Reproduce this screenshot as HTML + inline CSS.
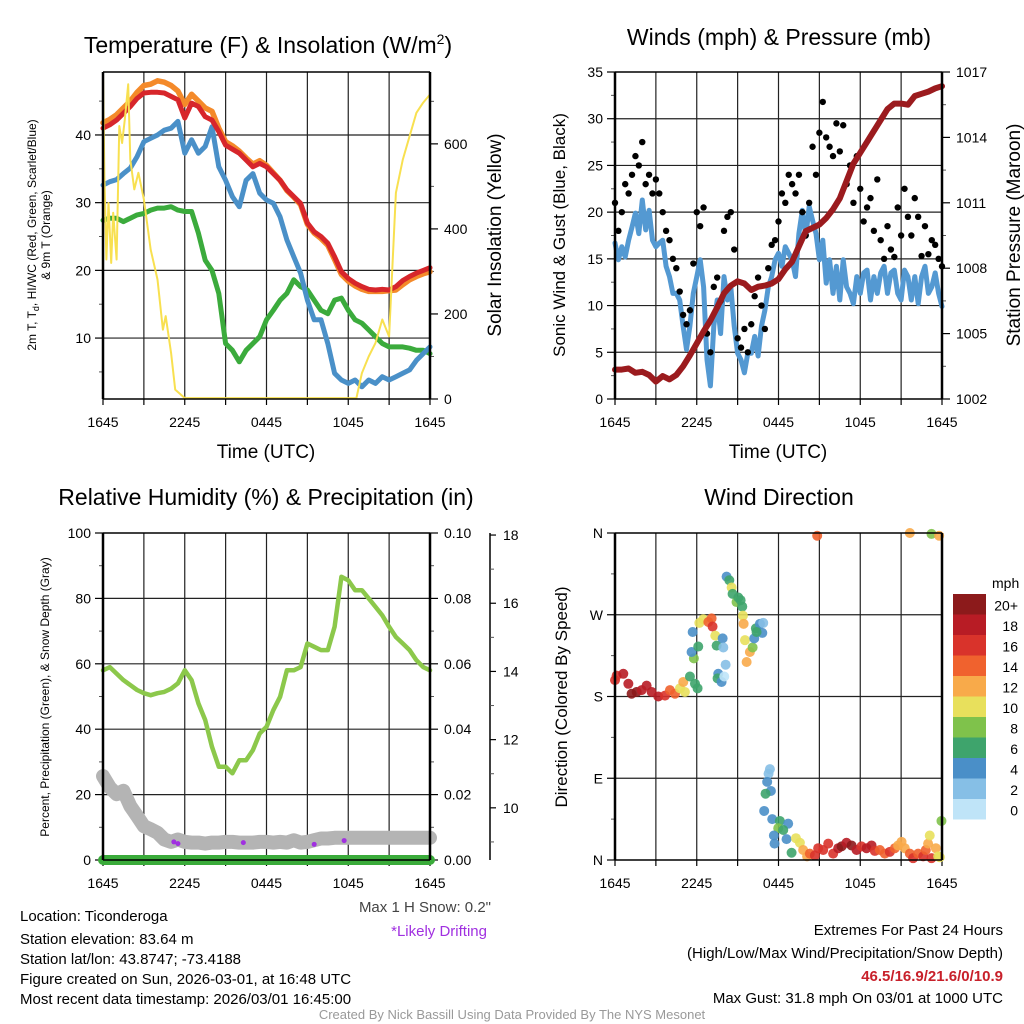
<!DOCTYPE html>
<html><head><meta charset="utf-8"><style>
html,body{margin:0;padding:0;background:#fff;}
svg{display:block;font-family:"Liberation Sans",Arial,sans-serif;}
</style></head><body>
<svg id="c" width="1024" height="1024" viewBox="0 0 1024 1024">
<rect x="0" y="0" width="1024" height="1024" fill="#fff"/>
<text x="268" y="53" font-size="23" text-anchor="middle">Temperature (F) &amp; Insolation (W/m<tspan font-size="14" dy="-9">2</tspan><tspan dy="9">)</tspan></text>
<text x="779" y="45" font-size="23" text-anchor="middle">Winds (mph) &amp; Pressure (mb)</text>
<text x="266" y="505" font-size="23" text-anchor="middle">Relative Humidity (%) &amp; Precipitation (in)</text>
<text x="779" y="505" font-size="23" text-anchor="middle">Wind Direction</text>
<text x="266" y="458" font-size="19" text-anchor="middle">Time (UTC)</text>
<text x="778" y="458" font-size="19" text-anchor="middle">Time (UTC)</text>
<text transform="translate(36,235) rotate(-90)" font-size="12" text-anchor="middle"><tspan x="0" dy="0">2m T, T<tspan font-size="9" dy="3">d</tspan><tspan dy="-3">, HI/WC (Red, Green, Scarlet/Blue)</tspan></tspan><tspan x="0" dy="14">&amp; 9m T (Orange)</tspan></text>
<text transform="translate(501,235) rotate(-90)" font-size="19" text-anchor="middle">Solar Insolation (Yellow)</text>
<text transform="translate(565,235) rotate(-90)" font-size="17" text-anchor="middle">Sonic Wind &amp; Gust (Blue, Black)</text>
<text transform="translate(1020,235) rotate(-90)" font-size="19" text-anchor="middle">Station Pressure (Maroon)</text>
<text transform="translate(49,697) rotate(-90)" font-size="12" text-anchor="middle">Percent, Precipitation (Green), &amp; Snow Depth (Gray)</text>
<text transform="translate(567,697) rotate(-90)" font-size="17" text-anchor="middle">Direction (Colored By Speed)</text>
<text x="992" y="588" font-size="14">mph</text>
<g font-size="15">
<text x="20" y="921">Location: Ticonderoga</text>
<text x="20" y="944">Station elevation: 83.64 m</text>
<text x="20" y="964">Station lat/lon: 43.8747; -73.4188</text>
<text x="20" y="984">Figure created on Sun, 2026-03-01, at 16:48 UTC</text>
<text x="20" y="1004">Most recent data timestamp: 2026/03/01 16:45:00</text>
<text x="491" y="912" text-anchor="end" fill="#444">Max 1 H Snow: 0.2"</text>
<text x="487" y="936" text-anchor="end" fill="#a030e0">*Likely Drifting</text>
<text x="1003" y="935" text-anchor="end">Extremes For Past 24 Hours</text>
<text x="1003" y="958" text-anchor="end">(High/Low/Max Wind/Precipitation/Snow Depth)</text>
<text x="1003" y="981" text-anchor="end" fill="#c8202a" font-weight="bold">46.5/16.9/21.6/0/10.9</text>
<text x="1003" y="1003" text-anchor="end">Max Gust: 31.8 mph On 03/01 at 1000 UTC</text>
</g>
<text x="512" y="1019" font-size="13" text-anchor="middle" fill="#999">Created By Nick Bassill Using Data Provided By The NYS Mesonet</text>
</svg>
<script>
// ---- data ----
const xTickLabels = ["1645","2245","0445","1045","1645"];
const halfHours = [0,0.5,1,1.5,2,2.5,3,3.5,4,4.5,5,5.5,6,6.5,7,7.5,8,8.5,9,9.5,10,10.5,11,11.5,12,12.5,13,13.5,14,14.5,15,15.5,16,16.5,17,17.5,18,18.5,19,19.5,20,20.5,21,21.5,22,22.5,23,23.5,24];
const tempRed = [41,41.5,42.2,43.2,44.2,45.4,46.2,46.3,46.3,46.2,45.7,45.2,42.5,44.7,44.2,42.7,42.2,40.5,38.5,37.9,37.3,36.3,35.3,35.8,35.3,34.3,33.3,31.9,30.9,29.9,27,25.7,25,24,22,19.8,18.8,18.1,17.6,17.2,17.1,17.2,17.1,17.6,18.5,19.1,19.6,20,20.4];
const temp9mOrange = [41.8,42.3,43,44,45,46.3,47.3,47.5,48,47.8,47.3,46.5,44.5,46,45,44,43.5,41,39,38.4,37.6,36.6,35.7,36.2,35.5,34.4,33.3,31.8,30.8,29.7,26.8,25.5,24.7,23.7,21.6,19.4,18.4,17.7,17.2,16.9,16.9,16.9,17,17.1,17.9,18.6,19.1,19.5,19.8];
const dewBlue = [32.6,33.1,33.4,34.3,35.1,36.8,39,39.5,40,40.7,41,42,37.3,39.3,37.3,38.3,41.2,35.3,33.3,30.9,29.4,33.3,34.3,31.4,30.4,29.9,27.9,24.5,22,19.6,15.6,12.7,12.7,9.2,4.8,3.8,3.3,3.8,2.8,3.8,3.3,4.3,3.8,4.3,4.8,5.3,6.7,7.7,8.7];
const windChillGreen = [27.4,27.7,27.7,27.2,27.7,28.2,28.4,28.9,29.2,29.2,29.4,28.9,28.7,28.7,25.5,21.5,20,16.6,9.2,8.2,6.5,8.2,9.2,10.2,12.7,14.1,15.6,16.6,18.6,17.6,17.1,15.6,14.1,13.6,15.6,15.9,14.1,12.7,12.2,11.2,10.2,9.2,8.7,8.7,8.7,8.5,8.2,8.2,7.7];
const solarHours = [0,0.1,0.25,0.4,0.6,0.75,1.0,1.2,1.4,1.6,1.85,2.0,2.3,2.6,3,3.5,4,4.4,4.6,5,5.3,6,18.6,19,19.5,20,20.5,21,21.5,22,22.5,23,23.5,24];
const solarW = [767,524,328,461,320,438,328,642,602,657,740,563,493,532,469,351,281,163,195,108,22,2,2,61,100,132,187,147,485,563,618,673,697,716];
const quarterHours = [0,0.25,0.5,0.75,1,1.25,1.5,1.75,2,2.25,2.5,2.75,3,3.25,3.5,3.75,4,4.25,4.5,4.75,5,5.25,5.5,5.75,6,6.25,6.5,6.75,7,7.25,7.5,7.75,8,8.25,8.5,8.75,9,9.25,9.5,9.75,10,10.25,10.5,10.75,11,11.25,11.5,11.75,12,12.25,12.5,12.75,13,13.25,13.5,13.75,14,14.25,14.5,14.75,15,15.25,15.5,15.75,16,16.25,16.5,16.75,17,17.25,17.5,17.75,18,18.25,18.5,18.75,19,19.25,19.5,19.75,20,20.25,20.5,20.75,21,21.25,21.5,21.75,22,22.25,22.5,22.75,23,23.25,23.5,23.75,24];
const windSpeed = [16.7,14.9,16.3,15.2,17,18.4,19.9,17.7,21.3,18.1,20.2,17,16.3,16.7,17,14.2,13.1,11.3,11.3,10.6,7.8,5.3,7.8,11.3,13.1,14.9,12,4.2,1.4,7.8,10.6,7,13.1,10.6,12,7.8,4.9,4.2,2.8,4.9,4.9,6.7,4.6,7.8,9.5,12,13.1,14.9,15.6,14.2,16.3,15.6,14.9,13.1,17.7,20.2,17.4,20.6,19.1,17.7,14.9,17,12.4,14.9,11.3,14.2,10.6,14.9,12,11.3,10.2,13.1,11.3,13.5,13.8,10.6,13.1,11.3,13.5,14.2,11.3,13.5,13.8,11.3,10.6,13.8,13.1,10.6,13.1,10.2,13.1,14.2,11.3,12,13.5,11.3,9.9];
const windGust = [21,18,20,23,22,24,26,25,27.5,23,24,22,23.5,22,20,18,17,15,14,11.5,9,8,9.5,14.5,20,18.5,20.5,7,5,12,13,10.5,18,19.5,20,16,6.5,5.5,7.5,5,8,11,13,10,7.5,14,16.5,17,19,22,21,24,23,22,24,20,17.5,21,27,24,28.5,31.8,28,27,26,29.5,26.5,29.3,23,25,21,26,22.5,19,20.5,21.5,18,23.5,17,15,18.5,16,15.2,20.5,17.5,22.5,19.5,17.5,21.5,19.5,15.3,18.5,15.5,17,16.5,15,14.2];
const pressureMb = [1003.35,1003.35,1003.4,1003.2,1003.25,1003.1,1002.8,1003.05,1002.9,1003.1,1003.5,1004.0,1004.55,1005.1,1005.6,1006.2,1006.85,1007.2,1007.4,1007.3,1007.0,1007.15,1007.2,1007.3,1007.5,1007.95,1008.3,1009.0,1009.7,1009.85,1010.0,1010.3,1010.7,1011.2,1012.0,1012.8,1013.3,1013.8,1014.3,1014.8,1015.3,1015.55,1015.55,1015.5,1015.9,1016.0,1016.1,1016.25,1016.35];
const relHumidity = [58,59,57,55,53.5,52,51,50.4,51,51.4,52.4,54,58,55,47.9,42.8,34.6,28.5,28.5,26.5,30.5,30.5,33.6,38.7,40.7,45.8,49.9,58,58,59,66.2,65.2,64.2,64.2,71.3,86.6,85.5,82.5,82.5,80,77.4,74.8,71.3,68.2,66.2,64.2,61.1,59,58];
const snowDepth = [10.93,10.6,10.4,10.5,10.05,9.76,9.46,9.37,9.27,9.07,9.0,9.07,9.0,8.98,8.98,8.95,8.98,8.98,9.0,9.0,8.98,8.98,8.98,9.0,9.0,8.98,9.0,8.98,9.05,8.98,9.0,9.05,9.1,9.1,9.12,9.12,9.12,9.12,9.12,9.12,9.12,9.12,9.12,9.12,9.12,9.12,9.12,9.12,9.12];
const precipIn = [0,0,0,0,0,0,0,0,0,0,0,0,0,0,0,0,0,0,0,0,0,0,0,0,0,0,0,0,0,0,0,0,0,0,0,0,0,0,0,0,0,0,0,0,0,0,0,0,0];
const driftHours = [5.2,5.5,10.3,15.5,17.7];
const driftSnow = [9.0,8.95,8.98,8.93,9.04];
const dirHours = [0.0,0.12,0.61,0.98,1.22,1.59,1.96,2.32,2.69,3.18,3.67,4.03,4.4,4.77,5.13,5.01,5.5,5.87,6.06,5.79,5.62,6.11,5.7,6.19,6.48,6.85,7.09,7.16,7.36,7.46,7.9,7.95,8.12,7.58,7.53,7.82,8.02,8.19,8.39,8.56,8.63,8.92,9.05,9.22,9.34,9.39,9.44,9.54,9.9,10.1,9.66,10.22,10.34,10.64,10.88,10.81,10.39,11.37,11.27,11.17,11.44,11.05,10.95,11.54,12.1,11.98,12.71,12.35,11.66,12.59,11.71,12.96,13.28,13.57,13.81,14.1,14.3,14.67,14.91,15.28,15.65,16.01,16.38,16.63,16.99,17.36,17.73,18.09,18.46,18.83,19.07,19.44,19.8,20.17,20.54,20.78,21.03,21.27,21.64,21.88,22.25,22.62,22.81,22.98,23.1,23.23,23.55,23.72,23.84,23.96,14.84,21.64,23.23,23.79];
const dirDeg = [198,203,205,194,183,185,187,192,185,180,181,187,183,189,185,196,202,194,189,222,229,235,251,261,265,262,266,257,247,236,244,234,215,205,200,196,202,312,308,300,293,284,289,286,279,269,260,242,229,234,218,244,255,260,261,250,251,100,95,86,76,73,54,45,43,35,40,33,27,23,18,8,24,19,11,4,7,5,13,11,18,7,13,15,19,16,11,15,13,16,10,11,7,9,13,16,20,13,7,2,7,4,11,18,27,2,13,4,3,43,357,360,359,357];
const dirSpeed = [16,16,18,18,20,20,18,18,18,18,16,14,14,10,10,12,6,6,6,8,4,6,4,10,10,14,14,16,10,6,4,2,2,4,6,4,0,4,6,10,6,8,6,6,6,10,12,10,12,8,12,4,6,4,2,4,6,2,2,4,4,6,4,4,6,8,4,6,4,4,4,6,10,10,12,12,14,16,16,16,16,16,18,20,18,20,18,16,18,18,16,14,14,16,14,12,12,12,14,16,14,16,14,12,10,16,12,10,10,8,14,12,8,12];
const speedBins = [0,2,4,6,8,10,12,14,16,18,20];
const speedLabels = ["0","2","4","6","8","10","12","14","16","18","20+"];
const speedColors = ["#bfe4f8","#86bfe6","#4a8fc8","#3ea46c","#7fc24b","#e8e05c","#f8aa4a","#f0622e","#d9332b","#b81c25","#8c1a1b"];
const tempTicks = [10,20,30,40];
const solarTicks = [0,200,400,600];
const windTicks = [0,5,10,15,20,25,30,35];
const pressTicks = [1002,1005,1008,1011,1014,1017];
const rhTicks = [0,20,40,60,80,100];
const precipTicks = [0,0.02,0.04,0.06,0.08,0.10];
const snowTicks = [10,12,14,16,18];
const dirTicks = [0,90,180,270,360];
const dirLabels = ["N","E","S","W","N"];

// ---- helpers ----
const NS = "http://www.w3.org/2000/svg";
const svg = document.getElementById("c");
function mk(tag, attrs, parent){ const e=document.createElementNS(NS,tag); for(const k in attrs) e.setAttribute(k,attrs[k]); (parent||svg).appendChild(e); return e; }
function lin(d0,d1,r0,r1){ return v => r0 + (v-d0)/(d1-d0)*(r1-r0); }
function pathD(xs, ys, fx, fy){ return xs.map((x,i)=>(i?"L":"M")+fx(x).toFixed(1)+","+fy(ys[i]).toFixed(1)).join(""); }

const P1={x0:103,x1:430,y0:72,y1:399}, P2={x0:615,x1:942,y0:72,y1:399}, P3={x0:103,x1:430,y0:533,y1:860}, P4={x0:615,x1:942,y0:533,y1:860};

function frame(P, key){
  const g=mk("g",{});
  
  
  const fx=lin(0,24,P.x0,P.x1);
  for(let h=0;h<=24;h+=3){
    const gl=mk("line",{x1:fx(h),x2:fx(h),y1:P.y0,y2:P.y1,stroke:"#222","stroke-width":1.2},g);
    
    
    const tk=mk("line",{x1:fx(h),x2:fx(h),y1:P.y1,y2:P.y1+6,stroke:"#000","stroke-width":1.2},g);
    
    
  }
  xTickLabels.forEach((l,i)=>{
    const t=mk("text",{x:fx(i*6),y:P.y1+28,"font-size":14,"text-anchor":"middle"},g);
    t.textContent=l;
    
    
  });
  return g;
}
function hGrid(P,key,ticks,fy,labels,side,minor){
  ticks.forEach((v,i)=>{
    const y=fy(v);
    if(side==="left" && y>P.y0+1 && y<P.y1-1){
      const l=mk("line",{x1:P.x0,x2:P.x1,y1:y,y2:y,stroke:"#222","stroke-width":1.2});
      
      
    }
    const tx = side==="left"? P.x0-8 : P.x1+10;
    const tk=mk("line",{x1:side==="left"?P.x0-8:P.x1,x2:side==="left"?P.x0:P.x1+8,y1:y,y2:y,stroke:"#000","stroke-width":1.2});
    
    
    const t=mk("text",{x:tx-(side==="left"?4:-4),y:y+5,"font-size":14,"text-anchor":side==="left"?"end":"start"});
    t.textContent=labels[i];
    
    
  });
  (minor||[]).forEach(v=>{
    const y=fy(v);
    const tk=mk("line",{x1:side==="left"?P.x0-4:P.x1,x2:side==="left"?P.x0:P.x1+4,y1:y,y2:y,stroke:"#555","stroke-width":1});
    
    
  });
}
function border(P,key){
  const a=mk("line",{x1:P.x0,x2:P.x0,y1:P.y0,y2:P.y1,stroke:"#000","stroke-width":2.5});
  
  
  const b=mk("line",{x1:P.x1,x2:P.x1,y1:P.y0,y2:P.y1,stroke:"#000","stroke-width":2.5});
  
  
  const c=mk("line",{x1:P.x0,x2:P.x1,y1:P.y0,y2:P.y0,stroke:"#000","stroke-width":1.5});
  
  
  const d=mk("line",{x1:P.x0,x2:P.x1,y1:P.y1,y2:P.y1,stroke:"#000","stroke-width":1.5});
  
  
}
function series(xs,ys,fx,fy,color,w,name){
  const p=mk("path",{d:pathD(xs,ys,fx,fy),fill:"none",stroke:color,"stroke-width":w,"stroke-linejoin":"round","stroke-linecap":"round"});
  
  
  return p;
}

// ---- Panel 1 ----
frame(P1,"p1");
const p1x=lin(0,24,P1.x0,P1.x1), p1y=lin(1,49.3,P1.y1,P1.y0), p1r=lin(0,769,P1.y1,P1.y0);
hGrid(P1,"p1",tempTicks,p1y,tempTicks.map(String),"left",[5,15,25,35,45]);
hGrid(P1,"p1",solarTicks,p1r,solarTicks.map(String),"right",[100,300,500,700]);
series(halfHours,windChillGreen,p1x,p1y,"#3bab3c",5,"windchill-line");
series(halfHours,dewBlue,p1x,p1y,"#4a90c8",5,"dewpoint-line");
series(halfHours,temp9mOrange,p1x,p1y,"#f48a2a",5.5,"temp-9m-line");
series(halfHours,tempRed,p1x,p1y,"#d7262b",5,"temp-2m-line");
series(solarHours,solarW,p1x,p1r,"#f8e050",2,"solar-insolation-line");
border(P1,"p1");

// ---- Panel 2 ----
frame(P2,"p2");
const p2x=lin(0,24,P2.x0,P2.x1), p2y=lin(0,35,P2.y1,P2.y0), p2r=lin(1002,1017,P2.y1,P2.y0);
hGrid(P2,"p2",windTicks,p2y,windTicks.map(String),"left",[2.5,7.5,12.5,17.5,22.5,27.5,32.5]);
hGrid(P2,"p2",pressTicks,p2r,pressTicks.map(String),"right",[1003.5,1006.5,1009.5,1012.5,1015.5]);
series(quarterHours,windSpeed,p2x,p2y,"#5499d2",5,"wind-speed-line");
quarterHours.forEach((h,i)=>{
  const c=mk("circle",{cx:p2x(h),cy:p2y(windGust[i]),r:3.2,fill:"#000"});
  
  
});
series(halfHours,pressureMb,p2x,p2r,"#9b1b1e",6,"pressure-line");
border(P2,"p2");

// ---- Panel 3 ----
frame(P3,"p3");
const p3x=lin(0,24,P3.x0,P3.x1), p3y=lin(0,100,P3.y1,P3.y0), p3r=lin(0,0.1,P3.y1,P3.y0), p3s=lin(8.47,18.06,P3.y1,P3.y0);
hGrid(P3,"p3",rhTicks,p3y,rhTicks.map(String),"left",[10,30,50,70,90]);
hGrid(P3,"p3",precipTicks,p3r,precipTicks.map(v=>v.toFixed(2)),"right",[0.01,0.03,0.05,0.07,0.09]);
const sa=mk("line",{x1:490,x2:490,y1:P3.y0,y2:P3.y1,stroke:"#000","stroke-width":1.5});


snowTicks.forEach(v=>{
  const y=p3s(v);
  const tk=mk("line",{x1:490,x2:496,y1:y,y2:y,stroke:"#000","stroke-width":1.2});
  
  
  const t=mk("text",{x:503,y:y+5,"font-size":14});
  t.textContent=String(v);
  
  
});
[9,11,13,15,17].forEach(v=>{
  const y=p3s(v);
  const tk=mk("line",{x1:490,x2:494,y1:y,y2:y,stroke:"#555","stroke-width":1});
  
  
});
series(halfHours,snowDepth,p3x,p3s,"#b4b4b4",14,"snow-depth-line");
series(halfHours,relHumidity,p3x,p3y,"#8cc84b",4.5,"humidity-line");
series(halfHours,precipIn,p3x,p3r,"#3aab3a",10,"precipitation-line");
driftHours.forEach((h,i)=>{
  const c=mk("circle",{cx:p3x(h),cy:p3s(driftSnow[i]),r:2.5,fill:"#a030e0"});
  
  
});
border(P3,"p3");

// ---- Panel 4 ----
frame(P4,"p4");
const p4x=lin(0,24,P4.x0,P4.x1), p4y=lin(0,360,P4.y1,P4.y0);
hGrid(P4,"p4",dirTicks,p4y,dirLabels,"left",[45,135,225,315]);
function speedColor(s){ let k=0; speedBins.forEach((b,i)=>{ if(s>=b) k=i; }); return speedColors[k]; }
dirHours.forEach((h,i)=>{
  const c=mk("circle",{cx:p4x(h),cy:p4y(dirDeg[i]),r:5,fill:speedColor(dirSpeed[i]),"fill-opacity":0.9});
  
  
});
border(P4,"p4");
// colorbar
const cbTop=594, cbH=20.5;
speedColors.forEach((col,i)=>{
  const j=speedColors.length-1-i;
  const r=mk("rect",{x:953,y:cbTop+j*cbH,width:33,height:cbH,fill:col});
  
  
  const t=mk("text",{x:1018,y:cbTop+j*cbH+cbH/2+6,"font-size":14,"text-anchor":"end"});
  t.textContent=speedLabels[i];
  
  
});
</script>
</body></html>
